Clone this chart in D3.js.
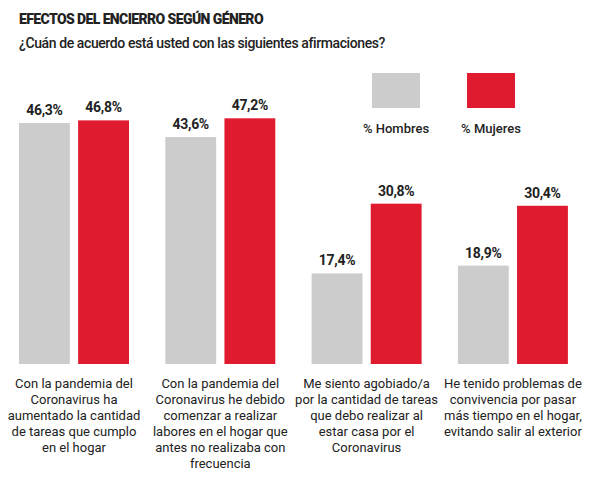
<!DOCTYPE html>
<html>
<head>
<meta charset="UTF-8">
<script src="https://d3js.org/d3.v7.min.js"></script>
<style>
  body { margin: 0; background: #fff; font-family: "Liberation Sans Narrow", "Roboto", sans-serif; }
</style>
</head>
<body>
<div id="chart"></div>
<script>
const categories = [
  ["Con la pandemia del", "Coronavirus ha", "aumentado la cantidad", "de tareas que cumplo", "en el hogar"],
  ["Con la pandemia del", "Coronavirus he debido", "comenzar a realizar", "labores en el hogar que", "antes no realizaba con", "frecuencia"],
  ["Me siento agobiado/a", "por la cantidad de tareas", "que debo realizar al", "estar casa por el", "Coronavirus"],
  ["He tenido problemas de", "convivencia por pasar", "más tiempo en el hogar,", "evitando salir al exterior"]
];
const hombres = [46.3, 43.6, 17.4, 18.9];
const mujeres = [46.8, 47.2, 30.8, 30.4];
const seriesNames = ["% Hombres", "% Mujeres"];
const colors = ["#cccccc", "#e01a2f"];

const W = 594, H = 477;
const svg = d3.select("#chart").append("svg").attr("width", W).attr("height", H);

svg.append("text").attr("x", 19).attr("y", 24)
  .style("font-family", "Roboto, sans-serif").style("font-weight", "900")
  .style("font-size", "14px").style("letter-spacing", "-0.6px").attr("fill", "#222")
  .text("EFECTOS DEL ENCIERRO SEGÚN GÉNERO");
svg.append("text").attr("x", 19).attr("y", 48)
  .style("font-family", "Roboto, sans-serif").style("font-weight", "500")
  .style("font-size", "14px").style("letter-spacing", "-0.4px").attr("fill", "#222")
  .text("¿Cuán de acuerdo está usted con las siguientes afirmaciones?");

const baseline = 364;
const x0 = d3.scaleBand().domain(d3.range(4)).range([0, 586]).paddingInner(0).paddingOuter(0);
const x1 = d3.scaleBand().domain([0, 1]).range([19, 129]).paddingInner(0.14);
const y = d3.scaleLinear().domain([0, 46.3]).range([baseline, 123]);

const g = svg.selectAll("g.grp").data(d3.range(4)).join("g")
  .attr("transform", i => `translate(${i * 146.3},0)`);

[hombres, mujeres].forEach((vals, s) => {
  g.append("rect")
    .attr("x", x1(s)).attr("width", x1.bandwidth())
    .attr("y", i => y(vals[i])).attr("height", i => baseline - y(vals[i]))
    .attr("fill", colors[s]);
  g.append("text")
    .attr("x", x1(s) + x1.bandwidth() / 2).attr("y", i => y(vals[i]) - 8)
    .attr("text-anchor", "middle")
    .style("font-family", "Roboto, sans-serif").style("font-weight", "700")
    .style("font-size", "14px").style("letter-spacing", "-0.3px").attr("fill", "#222")
    .text(i => vals[i].toFixed(1).replace(".", ",") + "%");
});

g.each(function(i) {
  const t = d3.select(this).append("text")
    .attr("text-anchor", "middle")
    .style("font-size", "13px").attr("fill", "#222");
  categories[i].forEach((line, k) => {
    t.append("tspan").attr("x", 74).attr("y", 388 + k * 16).text(line);
  });
});

// legend
const lx = [372, 467];
seriesNames.forEach((n, s) => {
  svg.append("rect").attr("x", lx[s]).attr("y", 73).attr("width", 48).attr("height", 35).attr("fill", colors[s]);
  svg.append("text").attr("x", lx[s] + 24).attr("y", 133).attr("text-anchor", "middle")
    .style("font-family", "Roboto, sans-serif").style("font-weight", "500")
    .style("font-size", "13px").attr("fill", "#222").text(n);
});
</script>
</body>
</html>
